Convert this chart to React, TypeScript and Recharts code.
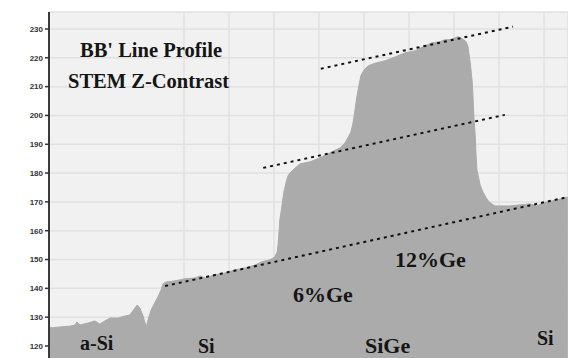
import React from "react";
import {
  ComposedChart,
  Area,
  XAxis,
  YAxis,
  CartesianGrid,
  ReferenceLine,
} from "recharts";

// Position along the BB' line (nm) and STEM Z-contrast intensity
const positions = [
  0, 0.7, 2.4, 4.7, 5.8, 6.2, 6.9, 8.7, 10.2, 11.3, 12.4, 13.6, 15.3, 16.9, 18.0,
  19.1, 19.6, 20.2, 20.9, 21.6, 22.0, 22.7, 23.6, 24.2, 24.9, 25.3, 26.0, 28.0,
  30.2, 32.4, 33.6, 34.7, 36.9, 39.1, 41.3, 43.6, 45.8, 47.3, 49.1, 50.2, 50.7,
  50.9, 51.1, 51.3, 51.8, 52.2, 52.7, 53.1, 53.6, 54.7, 55.8, 58.0, 60.2, 62.4,
  64.7, 65.8, 66.4, 67.1, 67.6, 68.0, 68.4, 68.9, 69.3, 70.0, 70.9, 72.4, 74.7,
  76.9, 79.1, 81.3, 83.6, 85.1, 86.9, 88.0, 89.1, 90.2, 90.9, 91.8, 92.7, 93.1,
  93.6, 94.0, 94.2, 94.4, 94.7, 94.9, 95.1, 95.8, 96.4, 97.3, 98.0, 99.1, 102.4,
  104.7, 106.9, 108.4, 109.8, 112.9, 115.3,
];
const intensity = [
  126.6, 126.3, 126.6, 126.9, 127.3, 128.3, 127.3, 128.0, 128.7, 127.6, 128.7,
  129.7, 129.7, 130.4, 130.8, 133.2, 134.2, 133.2, 130.4, 126.6, 129.0, 132.5,
  135.3, 137.0, 139.4, 141.5, 142.2, 142.6, 143.3, 143.6, 144.3, 143.6, 144.7,
  145.3, 146.4, 147.1, 148.1, 149.2, 149.9, 150.9, 152.6, 155.1, 159.6, 163.8,
  169.0, 173.5, 176.9, 179.0, 180.1, 181.8, 183.2, 183.9, 185.3, 187.0, 188.8,
  190.5, 192.2, 194.3, 197.8, 201.9, 206.5, 210.6, 213.8, 215.8, 217.2, 218.1,
  219.0, 220.3, 221.7, 222.4, 224.2, 225.2, 225.6, 226.3, 226.3, 226.9, 227.3,
  226.6, 225.6, 223.9, 218.3, 212.4, 207.2, 200.2, 193.3, 186.3, 181.1, 175.9,
  173.5, 171.0, 169.7, 168.6, 168.6, 169.0, 169.3, 168.6, 169.7, 170.7, 171.7,
];

// Dashed guide lines: [x1, y1, x2, y2]
const siBaseline = [25.8, 140.8, 115.3, 171.7];
const ge6Trend = [47.6, 181.8, 101.3, 200.2];
const ge12Trend = [60.4, 216.2, 103.1, 230.8];
const guideLines = [siBaseline, ge6Trend, ge12Trend];

const yTicks = [120, 130, 140, 150, 160, 170, 180, 190, 200, 210, 220, 230];
const xGridTicks = [30, 40, 50, 60, 70, 80, 90, 100, 110];
const yDomain: [number, number] = [115.83, 235.9];
const xDomain: [number, number] = [0, 115.33];

// Annotations: text, x, y (page pixels), font size
const annotations: [string, number, number, number][] = [
  ["BB' Line Profile", 80, 57, 20.5],
  ["STEM Z-Contrast", 68, 88, 20.5],
  ["12%Ge", 395, 267, 22],
  ["6%Ge", 293, 302, 22],
  ["a-Si", 80, 350, 20],
  ["Si", 198, 353, 20],
  ["SiGe", 365, 353, 22],
  ["Si", 537, 345, 20],
];

const data = positions.map((x, i) => ({ x, v: intensity[i] }));

export default function App() {
  return (
    <div style={{ position: "absolute", left: 0, top: 0, width: 568, height: 358 }}>
      <ComposedChart
        width={568}
        height={358}
        data={data}
        margin={{ top: 12, right: 0, bottom: 0, left: 0 }}
      >
        <CartesianGrid fill="#f1f1f1" stroke="#e1e1e1" strokeWidth={1.5} />
        <XAxis
          dataKey="x"
          type="number"
          domain={xDomain}
          ticks={xGridTicks}
          allowDataOverflow
          hide
        />
        <YAxis
          type="number"
          domain={yDomain}
          ticks={yTicks}
          interval={0}
          allowDataOverflow
          width={49}
          axisLine={{ stroke: "#3a3a3a", strokeWidth: 2 }}
          tickLine={{ stroke: "#333", strokeWidth: 1.5 }}
          tickSize={4}
          tick={{
            fill: "#333",
            fontSize: 8,
            fontWeight: 700,
            fontFamily: "Liberation Sans",
          }}
        />
        <Area
          type="linear"
          dataKey="v"
          fill="#ababab"
          fillOpacity={1}
          stroke="#ababab"
          strokeWidth={1}
          isAnimationActive={false}
          dot={false}
          activeDot={false}
        />
        {guideLines.map((g, i) => (
          <ReferenceLine
            key={i}
            segment={[
              { x: g[0], y: g[1] },
              { x: g[2], y: g[3] },
            ]}
            stroke="#111"
            strokeWidth={2}
            strokeDasharray="3 4"
            ifOverflow="visible"
          />
        ))}
      </ComposedChart>
      <svg
        width={568}
        height={358}
        style={{ position: "absolute", left: 0, top: 0, pointerEvents: "none" }}
      >
        {annotations.map(([t, x, y, fs], i) => (
          <text
            key={i}
            x={x}
            y={y}
            fontFamily="Liberation Serif"
            fontWeight={700}
            fontSize={fs}
            fill="#151515"
          >
            {t}
          </text>
        ))}
      </svg>
    </div>
  );
}
